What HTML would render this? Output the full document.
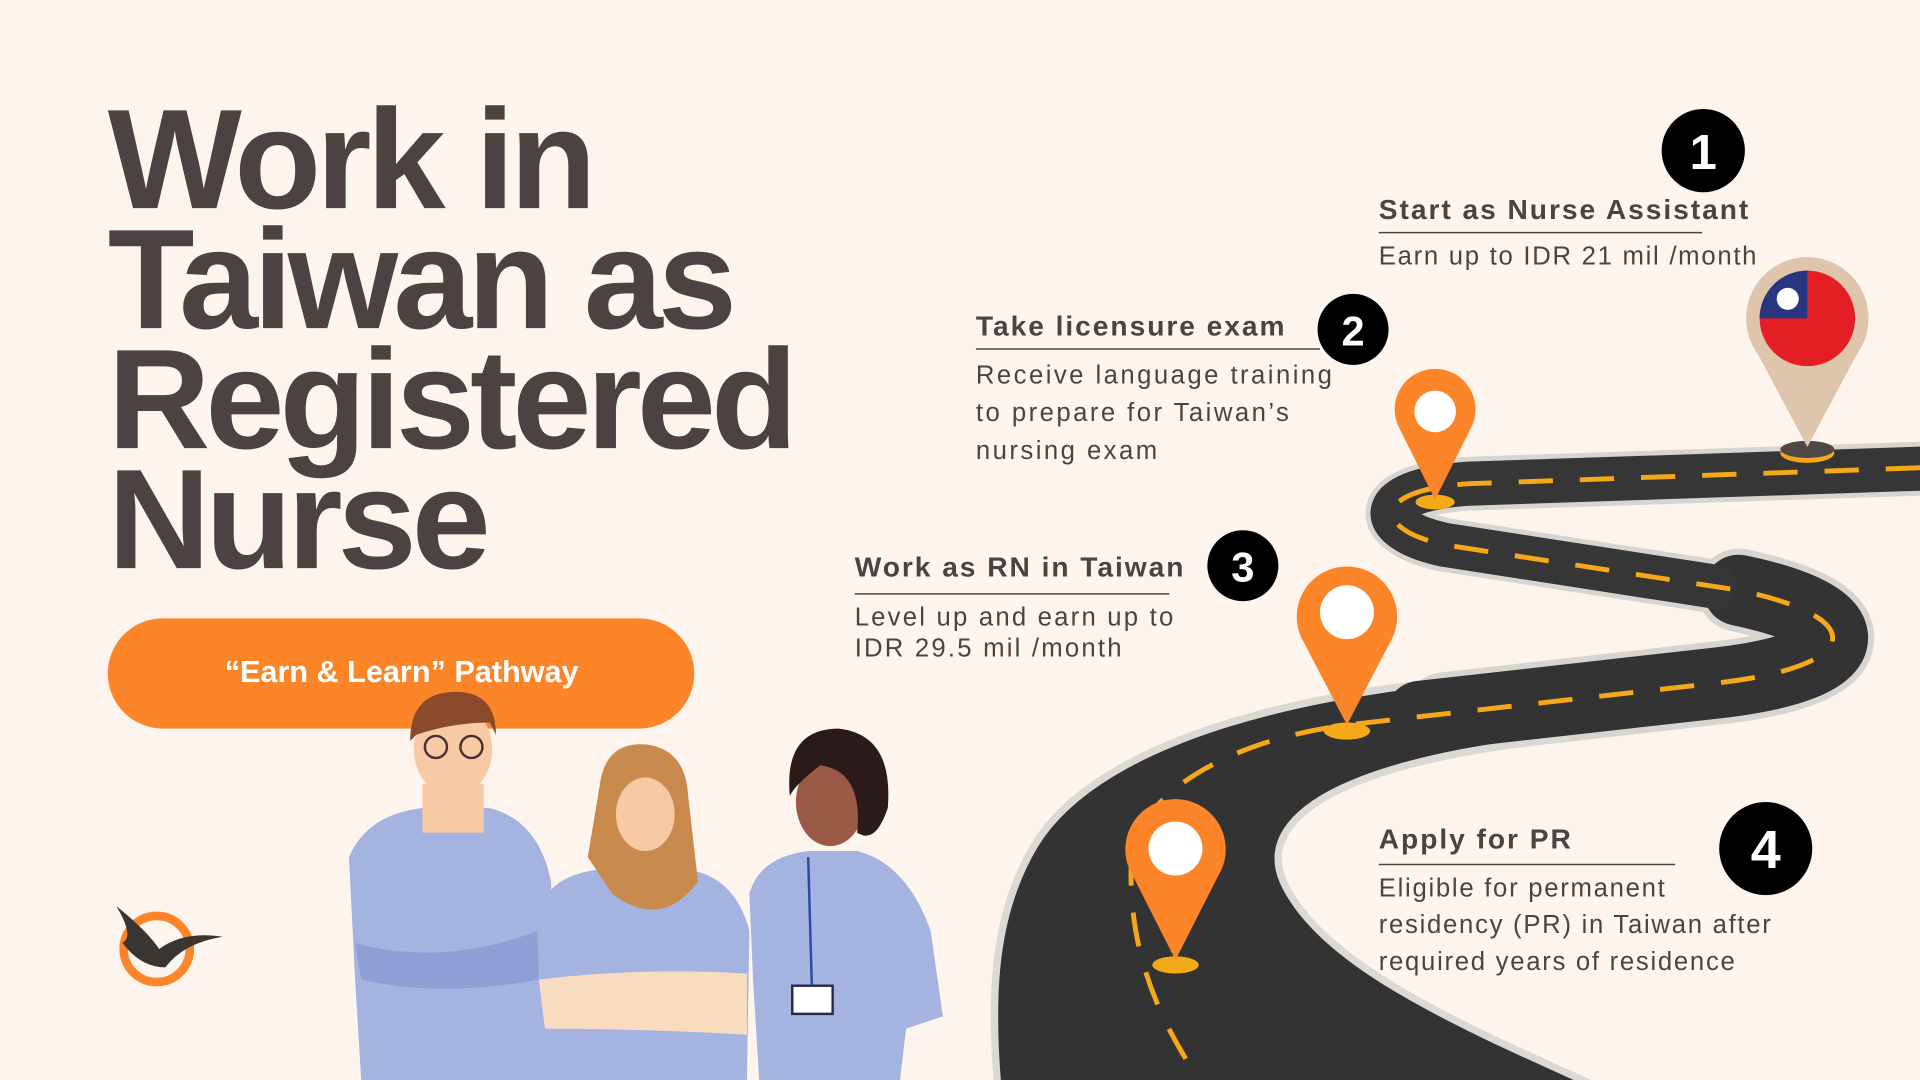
<!DOCTYPE html>
<html><head><meta charset="utf-8"><style>
html,body{margin:0;padding:0;background:#fdf5ed;}
svg{display:block;}
text{font-family:"Liberation Sans",sans-serif;fill:#4a4342;}
</style></head><body>
<svg width="1920" height="1080" viewBox="0 0 1568 882" xmlns="http://www.w3.org/2000/svg">
<rect width="1568" height="882" fill="#fdf5ed"/>
<!-- Title -->
<g font-weight="bold" font-size="116" letter-spacing="-4">
<text x="88" y="170">Work in</text>
<text x="88" y="268">Taiwan as</text>
<text x="88" y="366">Registered</text>
<text x="88" y="464">Nurse</text>
</g>
<!-- pill -->
<rect x="88" y="505" width="479" height="90" rx="45" fill="#fd8529"/>
<text x="328" y="557" text-anchor="middle" font-size="25" font-weight="bold" style="fill:#fff">“Earn &amp; Learn” Pathway</text>

<!-- Road -->
<g fill="none" stroke-linecap="round" stroke-linejoin="round">
<path d="M1590,382 L1200,395 C1120,400 1120,432 1180,445 L1420,482" stroke="#d8d4d0" stroke-width="44"/>
<path d="M1420,482 C1530,505 1520,545 1400,558 L1180,583" stroke="#d8d4d0" stroke-width="68"/>
</g>
<path d="M1250,551 C1080,560 900,600 845,690 C812,745 808,810 815,890 L1310,890 C1200,840 1080,790 1048,720 C1022,660 1120,618 1280,603 Z" fill="#333" stroke="#dcd8d4" stroke-width="6"/>
<g fill="none" stroke-linejoin="round" stroke-linecap="round">
<path d="M1420,482 C1530,505 1520,545 1400,558 L1160,585" stroke="#333" stroke-width="58"/>
<path d="M1590,382 L1200,395 C1120,400 1120,432 1180,445 L1400,479" stroke="#363636" stroke-width="36"/>
</g>
<path d="M1568,382 L1200,395 C1120,400 1120,432 1180,445 L1420,482 C1530,505 1520,545 1400,558 L1100,592 C1000,605 930,650 924,700 C920,780 950,840 985,890" fill="none" stroke="#f5a818" stroke-width="4" stroke-dasharray="28 22"/>

<!-- Taiwan pin -->
<ellipse cx="1476" cy="370" rx="22" ry="8" fill="#f5a818"/>
<ellipse cx="1476" cy="367" rx="22" ry="7" fill="#4f4846"/>
<path d="M1476,365 L1436,290 A50,50 0 1 1 1516,290 Z" fill="#dfc5ac"/>
<circle cx="1476" cy="260" r="39" fill="#e41e25"/>
<path d="M1437,260 A39,39 0 0 1 1476,221 L1476,260 Z" fill="#283580"/>
<circle cx="1460" cy="244" r="9" fill="#fff"/>

<!-- orange pins -->
<g fill="#fd8529">
<ellipse cx="1172" cy="410" rx="16" ry="6" fill="#f5a818"/>
<path d="M1172,408 L1143,350 A33,33 0 1 1 1201,350 Z"/>
<ellipse cx="1100" cy="597" rx="19" ry="7" fill="#f5a818"/>
<path d="M1100,592 L1065,525 A41,41 0 1 1 1135,525 Z"/>
<ellipse cx="960" cy="788" rx="19" ry="7" fill="#f5a818"/>
<path d="M960,784 L925,715 A41,41 0 1 1 995,715 Z"/>
</g>
<circle cx="1172" cy="336" r="17" fill="#fff"/>
<circle cx="1100" cy="500" r="22" fill="#fff"/>
<circle cx="960" cy="693" r="22" fill="#fff"/>

<!-- number circles -->
<g font-weight="bold" text-anchor="middle">
<circle cx="1391" cy="123" r="34" fill="#000"/><text x="1391" y="138" font-size="40" style="fill:#fff">1</text>
<circle cx="1105" cy="269" r="29" fill="#000"/><text x="1105" y="282" font-size="34" style="fill:#fff">2</text>
<circle cx="1015" cy="462" r="29" fill="#000"/><text x="1015" y="475" font-size="34" style="fill:#fff">3</text>
<circle cx="1442" cy="693" r="38" fill="#000"/><text x="1442" y="709" font-size="44" style="fill:#fff">4</text>
</g>

<!-- step texts -->
<g font-size="21" letter-spacing="1.4">
<text x="1126" y="179" font-weight="bold" font-size="23" letter-spacing="1.6">Start as Nurse Assistant</text>
<line x1="1126" y1="190" x2="1390" y2="190" stroke="#4a4342" stroke-width="1.2"/>
<text x="1126" y="216">Earn up to IDR 21 mil /month</text>

<text x="797" y="274" font-weight="bold" font-size="23" letter-spacing="1.6">Take licensure exam</text>
<line x1="797" y1="285" x2="1078" y2="285" stroke="#4a4342" stroke-width="1.2"/>
<text x="797" y="313" letter-spacing="2">Receive language training</text>
<text x="797" y="344" letter-spacing="2">to prepare for Taiwan’s</text>
<text x="797" y="375" letter-spacing="2">nursing exam</text>

<text x="698" y="471" font-weight="bold" font-size="23" letter-spacing="1.6">Work as RN in Taiwan</text>
<line x1="698" y1="485" x2="955" y2="485" stroke="#4a4342" stroke-width="1.2"/>
<text x="698" y="511" letter-spacing="1.8">Level up and earn up to</text>
<text x="698" y="536" letter-spacing="1.8">IDR 29.5 mil /month</text>

<text x="1126" y="693" font-weight="bold" font-size="23" letter-spacing="1.6">Apply for PR</text>
<line x1="1126" y1="706" x2="1368" y2="706" stroke="#4a4342" stroke-width="1.2"/>
<text x="1126" y="732">Eligible for permanent</text>
<text x="1126" y="762">residency (PR) in Taiwan after</text>
<text x="1126" y="792">required years of residence</text>
</g>

<!-- nurses -->
<g>
<path d="M285,700 Q300,665 345,660 L400,660 Q440,670 450,720 L455,882 L295,882 L290,800 Z" fill="#a5b3e0"/>
<rect x="345" y="640" width="50" height="40" fill="#f8c9a5"/>
<ellipse cx="370" cy="612" rx="32" ry="38" fill="#f8c9a5"/>
<path d="M335,605 Q335,565 372,565 Q405,565 405,600 L400,590 Q370,590 340,600 Z" fill="#8a4a2a"/>
<circle cx="356" cy="610" r="9" fill="none" stroke="#4a3030" stroke-width="2"/>
<circle cx="385" cy="610" r="9" fill="none" stroke="#4a3030" stroke-width="2"/>
<path d="M290,770 Q360,790 440,760 L440,800 Q360,815 295,800 Z" fill="#8f9fd6"/>
<path d="M612,730 Q620,700 660,695 L700,695 Q740,705 760,760 L770,830 L740,840 L735,882 L620,882 L615,800 Z" fill="#a5b3e0"/>
<ellipse cx="678" cy="655" rx="28" ry="36" fill="#9a5a45"/>
<path d="M645,650 Q640,595 685,595 Q730,600 725,660 Q715,690 700,680 Q705,630 670,625 Q650,640 645,650 Z" fill="#2a1a1a"/>
<rect x="647" y="805" width="33" height="23" fill="#fff" stroke="#2a2a4a" stroke-width="2"/>
<line x1="660" y1="700" x2="663" y2="805" stroke="#2a4aa0" stroke-width="2"/>
<path d="M438,750 Q445,715 490,710 L560,710 Q600,715 612,760 L610,882 L445,882 Z" fill="#a5b3e0"/>
<path d="M490,640 Q495,605 528,608 Q560,612 562,650 L570,720 Q540,760 500,730 L480,700 Z" fill="#c98a4e"/>
<ellipse cx="527" cy="665" rx="24" ry="30" fill="#f8c9a5"/>
<path d="M440,800 Q520,790 610,795 L610,845 Q520,840 445,840 Z" fill="#f8dcc0"/>
</g>

<!-- logo -->
<circle cx="128" cy="775" r="27" fill="none" stroke="#fd8529" stroke-width="7"/>
<path d="M95,740 Q120,760 130,775 Q150,760 182,765 Q150,770 135,790 Q115,790 100,770 Q110,765 95,740 Z" fill="#3a3533"/>
</svg>
</body></html>
